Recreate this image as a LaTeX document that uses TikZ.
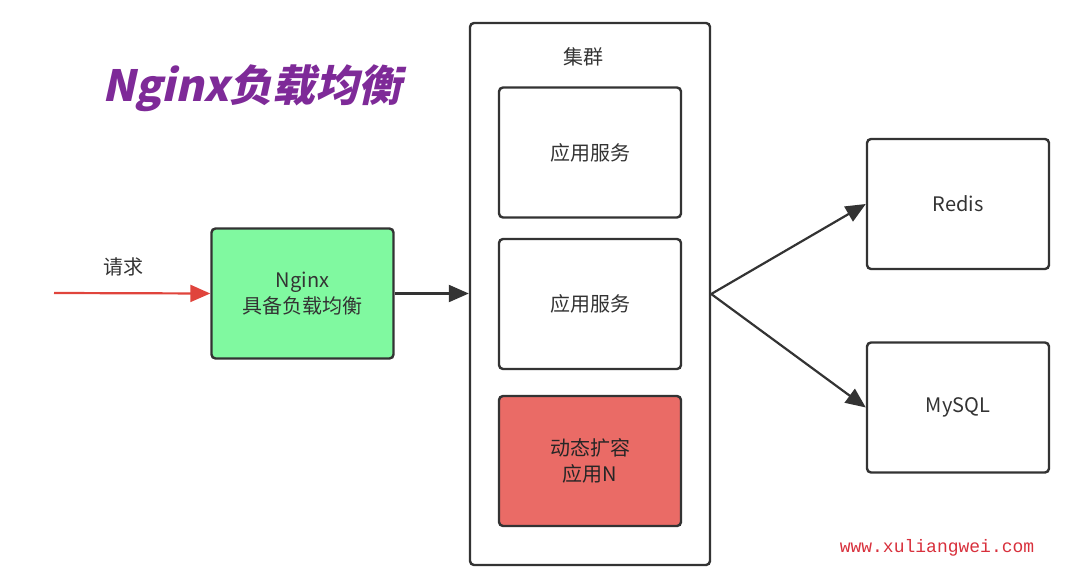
\documentclass[tikz,border=0pt]{standalone}
\usepackage{fontspec}
\setmainfont{Noto Sans CJK SC}
\newfontfamily\titlefont[FakeSlant=0.22]{Noto Sans CJK SC}
\newfontfamily\urlfont{Liberation Mono}
\usetikzlibrary{arrows.meta}
\definecolor{nginxgreen}{HTML}{80F9A0}
\definecolor{scalered}{HTML}{EA6B66}
\definecolor{titlepurple}{HTML}{7E2A98}
\definecolor{linegray}{HTML}{333333}
\definecolor{reqred}{HTML}{E0443C}
\definecolor{urlred}{HTML}{D8303C}
\tikzset{
    box/.style={draw=linegray, line width=1.2pt, rounded corners=2pt, align=center,
        minimum width=91pt, minimum height=65pt, inner sep=0pt,
        font=\fontsize{10pt}{13pt}\selectfont, text=black!80},
    link/.style={draw=linegray, line width=1.1pt, -{Triangle[length=10pt,width=8.5pt]}}
}
\begin{document}
\begin{tikzpicture}[x=0.5pt, y=-0.5pt]
    \useasboundingbox (0,0) rectangle (1080,567);
    % title
    \node[text=titlepurple, font=\titlefont\bfseries\fontsize{21.5pt}{26pt}\selectfont] (title) at (252,88) {Nginx负载均衡};
    % request
    \coordinate (start) at (54,293);
    \node[font=\fontsize{10pt}{12pt}\selectfont, text=black!80] (req) at (123,267) {请求};
    \node[box, fill=nginxgreen] (nginx) at (302.5,293.5) {Nginx\\具备负载均衡};
    % cluster
    \node[box, minimum width=120pt, minimum height=271pt] (cluster) at (590,294) {};
    \node[font=\fontsize{10pt}{12pt}\selectfont, text=black!80] (clabel) at (583,57) {集群};
    \node[box] (app1) at (590,152.5) {应用服务};
    \node[box] (app2) at (590,304) {应用服务};
    \node[box, fill=scalered, text=black!85] (appn) at (590,461) {动态扩容\\应用N};
    % storage
    \node[box] (redis) at (958,204) {Redis};
    \node[box] (mysql) at (958,407.5) {MySQL};
    % arrows
    \draw[link, draw=reqred] (start) -- (nginx.west);
    \draw[link] (nginx.east) -- (cluster.west |- nginx.east);
    \draw[link] (cluster.east) -- (redis.west);
    \draw[link] (cluster.east) -- (mysql.west);
    % watermark
    \node[text=urlred, font=\urlfont\fontsize{9pt}{11pt}\selectfont] (url) at (937,548) {www.xuliangwei.com};
\end{tikzpicture}
\end{document}
